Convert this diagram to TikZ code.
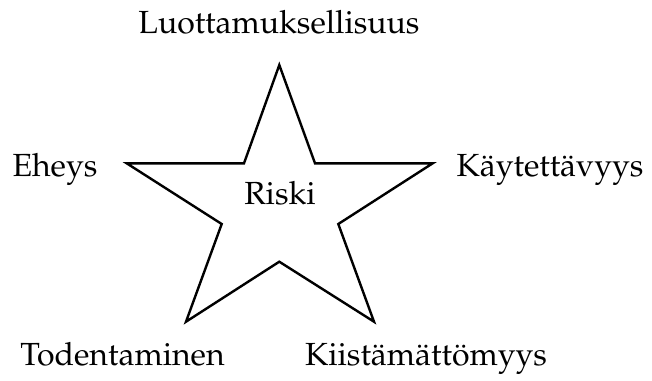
\documentclass[tikz,border=0pt]{standalone}
\usepackage[T1]{fontenc}
\usepackage{mathpazo}
\begin{document}
\begin{tikzpicture}[x=1pt,y=-1pt,
  lbl/.style={anchor=base,inner sep=0pt,font=\fontsize{32}{38}\selectfont}]
\useasboundingbox (0,0) rectangle (652,380);
\draw[line width=2.4pt,line join=miter]
  (279.3,65) -- (315,163.3) -- (432.7,163.3) -- (338.3,224) -- (374,321.7)
  -- (279.3,261.7) -- (186,321.7) -- (221.7,224) -- (126.7,163.3)
  -- (244,163.3) -- cycle;
\node[lbl] (riski) at (280,204) {Riski};
\node[lbl] (luot) at (279,33) {Luottamuksellisuus};
\node[lbl] (eheys) at (55,176) {Eheys};
\node[lbl] (kayt) at (550,176) {Käytettävyys};
\node[lbl] (tod) at (122.5,365) {Todentaminen};
\node[lbl] (kiis) at (426,365) {Kiistämättömyys};
\end{tikzpicture}
\end{document}
